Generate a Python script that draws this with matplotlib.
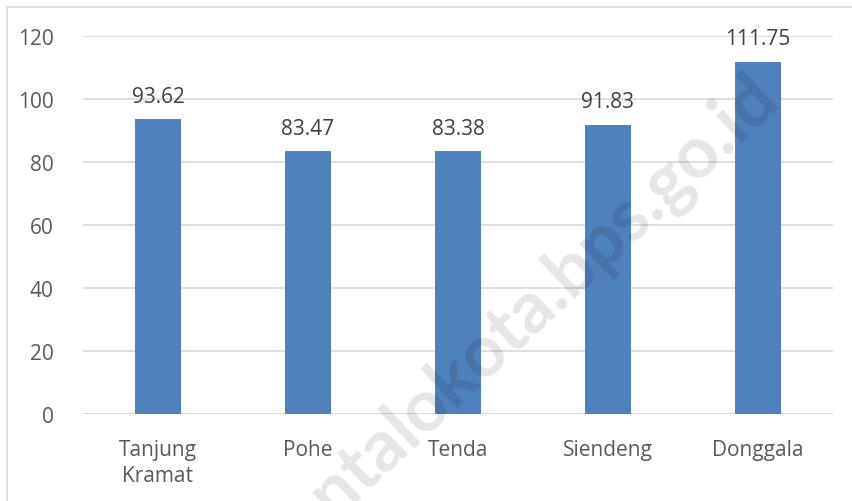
import matplotlib.pyplot as plt
from matplotlib.patches import Rectangle

categories = ["Tanjung\nKramat", "Pohe", "Tenda", "Siendeng", "Donggala"]
values = [93.62, 83.47, 83.38, 91.83, 111.75]
yticks = [0, 20, 40, 60, 80, 100, 120]
watermark = "gorontalokota.bps.go.id"

plt.rcParams["font.family"] = ["Open Sans", "DejaVu Sans"]

fig = plt.figure(figsize=(8.53, 5.02), dpi=100)
ax = fig.add_axes([83 / 853, 1 - 415 / 502, 750 / 853, 378 / 502])

# outer chart border (only top and left edges show in the crop)
fig.patches.append(Rectangle((7 / 853, -0.1), 1.2, 1 - 8 / 502 + 0.1,
                             transform=fig.transFigure, fill=False,
                             edgecolor="#d9d9d9", linewidth=1.2))

x = range(len(categories))
ax.bar(x, values, width=0.31, color="#4f81bd", zorder=2)
for i, v in zip(x, values):
    ax.annotate(f"{v:.2f}", (i, v), xytext=(0, 9), textcoords="offset points",
                ha="center", va="bottom", fontsize=15, color="#404040")

ax.set_xlim(-0.5, 4.5)
ax.set_ylim(0, 120)
ax.set_yticks(yticks)
ax.set_xticks(list(x))
ax.set_xticklabels(categories, fontsize=15, color="#595959", linespacing=1.3)
ax.tick_params(axis="y", labelsize=15, labelcolor="#595959", length=0, pad=21)
ax.tick_params(axis="x", length=0, pad=18)
ax.grid(axis="y", color="#d9d9d9", linewidth=1.2, zorder=0)
for s in ax.spines.values():
    s.set_visible(False)
ax.axhline(0, color="#d9d9d9", linewidth=1.2, zorder=1)

# watermark, semi-transparent over everything
fig.text(504 / 853, 1 - 362 / 502, watermark, fontsize=52,
         family=["Lato", "DejaVu Sans"], fontweight="bold",
         color="black", alpha=0.1, rotation=43, ha="center",
         va="baseline", rotation_mode="anchor", zorder=5)

fig.savefig("out.png", dpi=100)
